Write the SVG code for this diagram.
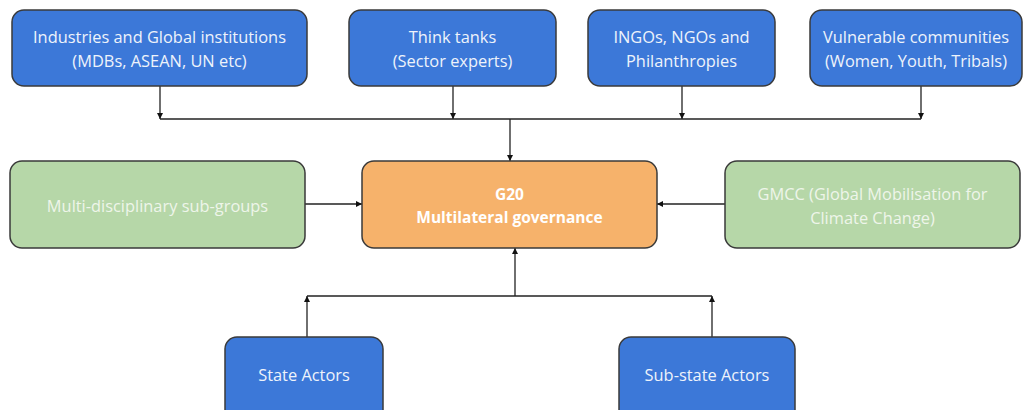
<svg xmlns="http://www.w3.org/2000/svg" width="1025" height="410" viewBox="0 0 1025 410">
<style>
.box{stroke:#3a3a3a;stroke-width:1.5}
.blue{fill:#3c78d8}
.green{fill:#b6d7a8}
.orange{fill:#f6b26b}
text{font-family:"Open Sans","Noto Sans","Liberation Sans",sans-serif;font-size:16.4px;text-anchor:middle}
.tb{fill:#eef3fb}
.tg{fill:#eef5ea}
.to{fill:#ffffff;font-weight:bold;font-size:15.5px}
.ln{stroke:#222;stroke-width:1.3;fill:none}
</style>
<defs>
<marker id="ah" viewBox="0 0 10 10" refX="10" refY="5" markerWidth="6" markerHeight="6" orient="auto" markerUnits="userSpaceOnUse">
<path d="M0,0 L10,5 L0,10 z" fill="#111"/>
</marker>
</defs>
<rect width="1025" height="410" fill="#ffffff"/>
<g id="connectors">
<path class="ln" d="M160,86 V119" marker-end="url(#ah)"/>
<path class="ln" d="M453,86 V119" marker-end="url(#ah)"/>
<path class="ln" d="M682,86 V119" marker-end="url(#ah)"/>
<path class="ln" d="M921,86 V119" marker-end="url(#ah)"/>
<path class="ln" d="M160,119 H921"/>
<path class="ln" d="M510,119 V161" marker-end="url(#ah)"/>
<path class="ln" d="M305,204 H362" marker-end="url(#ah)"/>
<path class="ln" d="M725,204 H657" marker-end="url(#ah)"/>
<path class="ln" d="M515,296 V248" marker-end="url(#ah)"/>
<path class="ln" d="M307,296 H712"/>
<path class="ln" d="M307,337 V296" marker-end="url(#ah)"/>
<path class="ln" d="M712,337 V296" marker-end="url(#ah)"/>
</g>
<g id="industries">
<rect class="box blue" x="12" y="10" width="295" height="76" rx="12"/>
<text class="tb" x="159.5" y="43">Industries and Global institutions</text>
<text class="tb" x="159.5" y="67">(MDBs, ASEAN, UN etc)</text>
</g>
<g id="thinktanks">
<rect class="box blue" x="349" y="10" width="207" height="76" rx="12"/>
<text class="tb" x="452.5" y="43">Think tanks</text>
<text class="tb" x="452.5" y="67">(Sector experts)</text>
</g>
<g id="ingos">
<rect class="box blue" x="588" y="10" width="187" height="76" rx="12"/>
<text class="tb" x="681.5" y="43">INGOs, NGOs and</text>
<text class="tb" x="681.5" y="67">Philanthropies</text>
</g>
<g id="vulnerable">
<rect class="box blue" x="810" y="10" width="212" height="76" rx="12"/>
<text class="tb" x="916" y="43">Vulnerable communities</text>
<text class="tb" x="916" y="67">(Women, Youth, Tribals)</text>
</g>
<g id="subgroups">
<rect class="box green" x="10" y="161" width="295" height="87" rx="12"/>
<text class="tg" x="157.5" y="212">Multi-disciplinary sub-groups</text>
</g>
<g id="g20">
<rect class="box orange" x="362" y="161" width="295" height="87" rx="12"/>
<text class="to" x="509.5" y="200">G20</text>
<text class="to" x="509.5" y="223">Multilateral governance</text>
</g>
<g id="gmcc">
<rect class="box green" x="725" y="161" width="295" height="87" rx="12"/>
<text class="tg" x="872.5" y="200">GMCC (Global Mobilisation for</text>
<text class="tg" x="872.5" y="224">Climate Change)</text>
</g>
<g id="state">
<rect class="box blue" x="225" y="337" width="158" height="85" rx="12"/>
<text class="tb" x="304" y="381">State Actors</text>
</g>
<g id="substate">
<rect class="box blue" x="619" y="337" width="176" height="85" rx="12"/>
<text class="tb" x="707" y="381">Sub-state Actors</text>
</g>
</svg>
